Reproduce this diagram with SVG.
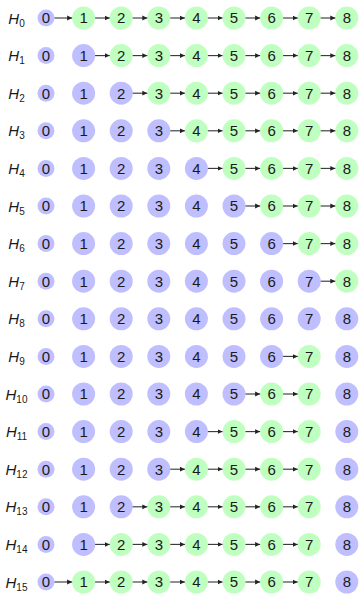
<svg xmlns="http://www.w3.org/2000/svg" width="360" height="594" viewBox="0 0 360 594">
<style>
.p{fill:#bfbfff}
.g{fill:#bfffbf}
.n text{font-family:"Liberation Sans",Arial,sans-serif;font-size:15px;fill:#1a1a1a;text-anchor:middle}
.lab{font-family:"Liberation Sans",Arial,sans-serif;font-size:15px;font-style:italic;fill:#1a1a1a;text-anchor:middle}
.lab tspan{font-size:10px;font-style:normal}
#edges line{stroke:#333;stroke-width:1.1;marker-end:url(#ah)}
</style>
<defs>
<marker id="ah" markerWidth="6" markerHeight="6" refX="5" refY="3" orient="auto" markerUnits="userSpaceOnUse"><path d="M0,0.6 L5,3 L0,5.4 z" fill="#222"/></marker>
</defs>
<g id="labels">
<text class="lab" x="16.5" y="23.5">H<tspan dy="3">0</tspan></text>
<text class="lab" x="16.5" y="61.1">H<tspan dy="3">1</tspan></text>
<text class="lab" x="16.5" y="98.7">H<tspan dy="3">2</tspan></text>
<text class="lab" x="16.5" y="136.3">H<tspan dy="3">3</tspan></text>
<text class="lab" x="16.5" y="173.9">H<tspan dy="3">4</tspan></text>
<text class="lab" x="16.5" y="211.5">H<tspan dy="3">5</tspan></text>
<text class="lab" x="16.5" y="249.1">H<tspan dy="3">6</tspan></text>
<text class="lab" x="16.5" y="286.7">H<tspan dy="3">7</tspan></text>
<text class="lab" x="16.5" y="324.3">H<tspan dy="3">8</tspan></text>
<text class="lab" x="16.5" y="361.9">H<tspan dy="3">9</tspan></text>
<text class="lab" x="16.5" y="399.5">H<tspan dy="3">10</tspan></text>
<text class="lab" x="16.5" y="437.1">H<tspan dy="3">11</tspan></text>
<text class="lab" x="16.5" y="474.7">H<tspan dy="3">12</tspan></text>
<text class="lab" x="16.5" y="512.3">H<tspan dy="3">13</tspan></text>
<text class="lab" x="16.5" y="549.9">H<tspan dy="3">14</tspan></text>
<text class="lab" x="16.5" y="587.5">H<tspan dy="3">15</tspan></text>
</g>

<g id="row0" class="n" transform="translate(0,18)">
<g id="r0n0" transform="translate(46,0)"><circle class="p" r="8.5"/><text y="5.3">0</text></g>
<g id="r0n1" transform="translate(83.6,0)"><circle class="g" r="11.5"/><text y="5.3">1</text></g>
<g id="r0n2" transform="translate(121.2,0)"><circle class="g" r="11.5"/><text y="5.3">2</text></g>
<g id="r0n3" transform="translate(158.8,0)"><circle class="g" r="11.5"/><text y="5.3">3</text></g>
<g id="r0n4" transform="translate(196.4,0)"><circle class="g" r="11.5"/><text y="5.3">4</text></g>
<g id="r0n5" transform="translate(234,0)"><circle class="g" r="11.5"/><text y="5.3">5</text></g>
<g id="r0n6" transform="translate(271.6,0)"><circle class="g" r="11.5"/><text y="5.3">6</text></g>
<g id="r0n7" transform="translate(309.2,0)"><circle class="g" r="11.5"/><text y="5.3">7</text></g>
<g id="r0n8" transform="translate(346.8,0)"><circle class="g" r="11.5"/><text y="5.3">8</text></g>
</g>
<g id="row1" class="n" transform="translate(0,55.6)">
<g id="r1n0" transform="translate(46,0)"><circle class="p" r="8.5"/><text y="5.3">0</text></g>
<g id="r1n1" transform="translate(83.6,0)"><circle class="p" r="11.5"/><text y="5.3">1</text></g>
<g id="r1n2" transform="translate(121.2,0)"><circle class="g" r="11.5"/><text y="5.3">2</text></g>
<g id="r1n3" transform="translate(158.8,0)"><circle class="g" r="11.5"/><text y="5.3">3</text></g>
<g id="r1n4" transform="translate(196.4,0)"><circle class="g" r="11.5"/><text y="5.3">4</text></g>
<g id="r1n5" transform="translate(234,0)"><circle class="g" r="11.5"/><text y="5.3">5</text></g>
<g id="r1n6" transform="translate(271.6,0)"><circle class="g" r="11.5"/><text y="5.3">6</text></g>
<g id="r1n7" transform="translate(309.2,0)"><circle class="g" r="11.5"/><text y="5.3">7</text></g>
<g id="r1n8" transform="translate(346.8,0)"><circle class="g" r="11.5"/><text y="5.3">8</text></g>
</g>
<g id="row2" class="n" transform="translate(0,93.2)">
<g id="r2n0" transform="translate(46,0)"><circle class="p" r="8.5"/><text y="5.3">0</text></g>
<g id="r2n1" transform="translate(83.6,0)"><circle class="p" r="11.5"/><text y="5.3">1</text></g>
<g id="r2n2" transform="translate(121.2,0)"><circle class="p" r="11.5"/><text y="5.3">2</text></g>
<g id="r2n3" transform="translate(158.8,0)"><circle class="g" r="11.5"/><text y="5.3">3</text></g>
<g id="r2n4" transform="translate(196.4,0)"><circle class="g" r="11.5"/><text y="5.3">4</text></g>
<g id="r2n5" transform="translate(234,0)"><circle class="g" r="11.5"/><text y="5.3">5</text></g>
<g id="r2n6" transform="translate(271.6,0)"><circle class="g" r="11.5"/><text y="5.3">6</text></g>
<g id="r2n7" transform="translate(309.2,0)"><circle class="g" r="11.5"/><text y="5.3">7</text></g>
<g id="r2n8" transform="translate(346.8,0)"><circle class="g" r="11.5"/><text y="5.3">8</text></g>
</g>
<g id="row3" class="n" transform="translate(0,130.8)">
<g id="r3n0" transform="translate(46,0)"><circle class="p" r="8.5"/><text y="5.3">0</text></g>
<g id="r3n1" transform="translate(83.6,0)"><circle class="p" r="11.5"/><text y="5.3">1</text></g>
<g id="r3n2" transform="translate(121.2,0)"><circle class="p" r="11.5"/><text y="5.3">2</text></g>
<g id="r3n3" transform="translate(158.8,0)"><circle class="p" r="11.5"/><text y="5.3">3</text></g>
<g id="r3n4" transform="translate(196.4,0)"><circle class="g" r="11.5"/><text y="5.3">4</text></g>
<g id="r3n5" transform="translate(234,0)"><circle class="g" r="11.5"/><text y="5.3">5</text></g>
<g id="r3n6" transform="translate(271.6,0)"><circle class="g" r="11.5"/><text y="5.3">6</text></g>
<g id="r3n7" transform="translate(309.2,0)"><circle class="g" r="11.5"/><text y="5.3">7</text></g>
<g id="r3n8" transform="translate(346.8,0)"><circle class="g" r="11.5"/><text y="5.3">8</text></g>
</g>
<g id="row4" class="n" transform="translate(0,168.4)">
<g id="r4n0" transform="translate(46,0)"><circle class="p" r="8.5"/><text y="5.3">0</text></g>
<g id="r4n1" transform="translate(83.6,0)"><circle class="p" r="11.5"/><text y="5.3">1</text></g>
<g id="r4n2" transform="translate(121.2,0)"><circle class="p" r="11.5"/><text y="5.3">2</text></g>
<g id="r4n3" transform="translate(158.8,0)"><circle class="p" r="11.5"/><text y="5.3">3</text></g>
<g id="r4n4" transform="translate(196.4,0)"><circle class="p" r="11.5"/><text y="5.3">4</text></g>
<g id="r4n5" transform="translate(234,0)"><circle class="g" r="11.5"/><text y="5.3">5</text></g>
<g id="r4n6" transform="translate(271.6,0)"><circle class="g" r="11.5"/><text y="5.3">6</text></g>
<g id="r4n7" transform="translate(309.2,0)"><circle class="g" r="11.5"/><text y="5.3">7</text></g>
<g id="r4n8" transform="translate(346.8,0)"><circle class="g" r="11.5"/><text y="5.3">8</text></g>
</g>
<g id="row5" class="n" transform="translate(0,206)">
<g id="r5n0" transform="translate(46,0)"><circle class="p" r="8.5"/><text y="5.3">0</text></g>
<g id="r5n1" transform="translate(83.6,0)"><circle class="p" r="11.5"/><text y="5.3">1</text></g>
<g id="r5n2" transform="translate(121.2,0)"><circle class="p" r="11.5"/><text y="5.3">2</text></g>
<g id="r5n3" transform="translate(158.8,0)"><circle class="p" r="11.5"/><text y="5.3">3</text></g>
<g id="r5n4" transform="translate(196.4,0)"><circle class="p" r="11.5"/><text y="5.3">4</text></g>
<g id="r5n5" transform="translate(234,0)"><circle class="p" r="11.5"/><text y="5.3">5</text></g>
<g id="r5n6" transform="translate(271.6,0)"><circle class="g" r="11.5"/><text y="5.3">6</text></g>
<g id="r5n7" transform="translate(309.2,0)"><circle class="g" r="11.5"/><text y="5.3">7</text></g>
<g id="r5n8" transform="translate(346.8,0)"><circle class="g" r="11.5"/><text y="5.3">8</text></g>
</g>
<g id="row6" class="n" transform="translate(0,243.6)">
<g id="r6n0" transform="translate(46,0)"><circle class="p" r="8.5"/><text y="5.3">0</text></g>
<g id="r6n1" transform="translate(83.6,0)"><circle class="p" r="11.5"/><text y="5.3">1</text></g>
<g id="r6n2" transform="translate(121.2,0)"><circle class="p" r="11.5"/><text y="5.3">2</text></g>
<g id="r6n3" transform="translate(158.8,0)"><circle class="p" r="11.5"/><text y="5.3">3</text></g>
<g id="r6n4" transform="translate(196.4,0)"><circle class="p" r="11.5"/><text y="5.3">4</text></g>
<g id="r6n5" transform="translate(234,0)"><circle class="p" r="11.5"/><text y="5.3">5</text></g>
<g id="r6n6" transform="translate(271.6,0)"><circle class="p" r="11.5"/><text y="5.3">6</text></g>
<g id="r6n7" transform="translate(309.2,0)"><circle class="g" r="11.5"/><text y="5.3">7</text></g>
<g id="r6n8" transform="translate(346.8,0)"><circle class="g" r="11.5"/><text y="5.3">8</text></g>
</g>
<g id="row7" class="n" transform="translate(0,281.2)">
<g id="r7n0" transform="translate(46,0)"><circle class="p" r="8.5"/><text y="5.3">0</text></g>
<g id="r7n1" transform="translate(83.6,0)"><circle class="p" r="11.5"/><text y="5.3">1</text></g>
<g id="r7n2" transform="translate(121.2,0)"><circle class="p" r="11.5"/><text y="5.3">2</text></g>
<g id="r7n3" transform="translate(158.8,0)"><circle class="p" r="11.5"/><text y="5.3">3</text></g>
<g id="r7n4" transform="translate(196.4,0)"><circle class="p" r="11.5"/><text y="5.3">4</text></g>
<g id="r7n5" transform="translate(234,0)"><circle class="p" r="11.5"/><text y="5.3">5</text></g>
<g id="r7n6" transform="translate(271.6,0)"><circle class="p" r="11.5"/><text y="5.3">6</text></g>
<g id="r7n7" transform="translate(309.2,0)"><circle class="p" r="11.5"/><text y="5.3">7</text></g>
<g id="r7n8" transform="translate(346.8,0)"><circle class="g" r="11.5"/><text y="5.3">8</text></g>
</g>
<g id="row8" class="n" transform="translate(0,318.8)">
<g id="r8n0" transform="translate(46,0)"><circle class="p" r="8.5"/><text y="5.3">0</text></g>
<g id="r8n1" transform="translate(83.6,0)"><circle class="p" r="11.5"/><text y="5.3">1</text></g>
<g id="r8n2" transform="translate(121.2,0)"><circle class="p" r="11.5"/><text y="5.3">2</text></g>
<g id="r8n3" transform="translate(158.8,0)"><circle class="p" r="11.5"/><text y="5.3">3</text></g>
<g id="r8n4" transform="translate(196.4,0)"><circle class="p" r="11.5"/><text y="5.3">4</text></g>
<g id="r8n5" transform="translate(234,0)"><circle class="p" r="11.5"/><text y="5.3">5</text></g>
<g id="r8n6" transform="translate(271.6,0)"><circle class="p" r="11.5"/><text y="5.3">6</text></g>
<g id="r8n7" transform="translate(309.2,0)"><circle class="p" r="11.5"/><text y="5.3">7</text></g>
<g id="r8n8" transform="translate(346.8,0)"><circle class="p" r="11.5"/><text y="5.3">8</text></g>
</g>
<g id="row9" class="n" transform="translate(0,356.4)">
<g id="r9n0" transform="translate(46,0)"><circle class="p" r="8.5"/><text y="5.3">0</text></g>
<g id="r9n1" transform="translate(83.6,0)"><circle class="p" r="11.5"/><text y="5.3">1</text></g>
<g id="r9n2" transform="translate(121.2,0)"><circle class="p" r="11.5"/><text y="5.3">2</text></g>
<g id="r9n3" transform="translate(158.8,0)"><circle class="p" r="11.5"/><text y="5.3">3</text></g>
<g id="r9n4" transform="translate(196.4,0)"><circle class="p" r="11.5"/><text y="5.3">4</text></g>
<g id="r9n5" transform="translate(234,0)"><circle class="p" r="11.5"/><text y="5.3">5</text></g>
<g id="r9n6" transform="translate(271.6,0)"><circle class="p" r="11.5"/><text y="5.3">6</text></g>
<g id="r9n7" transform="translate(309.2,0)"><circle class="g" r="11.5"/><text y="5.3">7</text></g>
<g id="r9n8" transform="translate(346.8,0)"><circle class="p" r="11.5"/><text y="5.3">8</text></g>
</g>
<g id="row10" class="n" transform="translate(0,394)">
<g id="r10n0" transform="translate(46,0)"><circle class="p" r="8.5"/><text y="5.3">0</text></g>
<g id="r10n1" transform="translate(83.6,0)"><circle class="p" r="11.5"/><text y="5.3">1</text></g>
<g id="r10n2" transform="translate(121.2,0)"><circle class="p" r="11.5"/><text y="5.3">2</text></g>
<g id="r10n3" transform="translate(158.8,0)"><circle class="p" r="11.5"/><text y="5.3">3</text></g>
<g id="r10n4" transform="translate(196.4,0)"><circle class="p" r="11.5"/><text y="5.3">4</text></g>
<g id="r10n5" transform="translate(234,0)"><circle class="p" r="11.5"/><text y="5.3">5</text></g>
<g id="r10n6" transform="translate(271.6,0)"><circle class="g" r="11.5"/><text y="5.3">6</text></g>
<g id="r10n7" transform="translate(309.2,0)"><circle class="g" r="11.5"/><text y="5.3">7</text></g>
<g id="r10n8" transform="translate(346.8,0)"><circle class="p" r="11.5"/><text y="5.3">8</text></g>
</g>
<g id="row11" class="n" transform="translate(0,431.6)">
<g id="r11n0" transform="translate(46,0)"><circle class="p" r="8.5"/><text y="5.3">0</text></g>
<g id="r11n1" transform="translate(83.6,0)"><circle class="p" r="11.5"/><text y="5.3">1</text></g>
<g id="r11n2" transform="translate(121.2,0)"><circle class="p" r="11.5"/><text y="5.3">2</text></g>
<g id="r11n3" transform="translate(158.8,0)"><circle class="p" r="11.5"/><text y="5.3">3</text></g>
<g id="r11n4" transform="translate(196.4,0)"><circle class="p" r="11.5"/><text y="5.3">4</text></g>
<g id="r11n5" transform="translate(234,0)"><circle class="g" r="11.5"/><text y="5.3">5</text></g>
<g id="r11n6" transform="translate(271.6,0)"><circle class="g" r="11.5"/><text y="5.3">6</text></g>
<g id="r11n7" transform="translate(309.2,0)"><circle class="g" r="11.5"/><text y="5.3">7</text></g>
<g id="r11n8" transform="translate(346.8,0)"><circle class="p" r="11.5"/><text y="5.3">8</text></g>
</g>
<g id="row12" class="n" transform="translate(0,469.2)">
<g id="r12n0" transform="translate(46,0)"><circle class="p" r="8.5"/><text y="5.3">0</text></g>
<g id="r12n1" transform="translate(83.6,0)"><circle class="p" r="11.5"/><text y="5.3">1</text></g>
<g id="r12n2" transform="translate(121.2,0)"><circle class="p" r="11.5"/><text y="5.3">2</text></g>
<g id="r12n3" transform="translate(158.8,0)"><circle class="p" r="11.5"/><text y="5.3">3</text></g>
<g id="r12n4" transform="translate(196.4,0)"><circle class="g" r="11.5"/><text y="5.3">4</text></g>
<g id="r12n5" transform="translate(234,0)"><circle class="g" r="11.5"/><text y="5.3">5</text></g>
<g id="r12n6" transform="translate(271.6,0)"><circle class="g" r="11.5"/><text y="5.3">6</text></g>
<g id="r12n7" transform="translate(309.2,0)"><circle class="g" r="11.5"/><text y="5.3">7</text></g>
<g id="r12n8" transform="translate(346.8,0)"><circle class="p" r="11.5"/><text y="5.3">8</text></g>
</g>
<g id="row13" class="n" transform="translate(0,506.8)">
<g id="r13n0" transform="translate(46,0)"><circle class="p" r="8.5"/><text y="5.3">0</text></g>
<g id="r13n1" transform="translate(83.6,0)"><circle class="p" r="11.5"/><text y="5.3">1</text></g>
<g id="r13n2" transform="translate(121.2,0)"><circle class="p" r="11.5"/><text y="5.3">2</text></g>
<g id="r13n3" transform="translate(158.8,0)"><circle class="g" r="11.5"/><text y="5.3">3</text></g>
<g id="r13n4" transform="translate(196.4,0)"><circle class="g" r="11.5"/><text y="5.3">4</text></g>
<g id="r13n5" transform="translate(234,0)"><circle class="g" r="11.5"/><text y="5.3">5</text></g>
<g id="r13n6" transform="translate(271.6,0)"><circle class="g" r="11.5"/><text y="5.3">6</text></g>
<g id="r13n7" transform="translate(309.2,0)"><circle class="g" r="11.5"/><text y="5.3">7</text></g>
<g id="r13n8" transform="translate(346.8,0)"><circle class="p" r="11.5"/><text y="5.3">8</text></g>
</g>
<g id="row14" class="n" transform="translate(0,544.4)">
<g id="r14n0" transform="translate(46,0)"><circle class="p" r="8.5"/><text y="5.3">0</text></g>
<g id="r14n1" transform="translate(83.6,0)"><circle class="p" r="11.5"/><text y="5.3">1</text></g>
<g id="r14n2" transform="translate(121.2,0)"><circle class="g" r="11.5"/><text y="5.3">2</text></g>
<g id="r14n3" transform="translate(158.8,0)"><circle class="g" r="11.5"/><text y="5.3">3</text></g>
<g id="r14n4" transform="translate(196.4,0)"><circle class="g" r="11.5"/><text y="5.3">4</text></g>
<g id="r14n5" transform="translate(234,0)"><circle class="g" r="11.5"/><text y="5.3">5</text></g>
<g id="r14n6" transform="translate(271.6,0)"><circle class="g" r="11.5"/><text y="5.3">6</text></g>
<g id="r14n7" transform="translate(309.2,0)"><circle class="g" r="11.5"/><text y="5.3">7</text></g>
<g id="r14n8" transform="translate(346.8,0)"><circle class="p" r="11.5"/><text y="5.3">8</text></g>
</g>
<g id="row15" class="n" transform="translate(0,582)">
<g id="r15n0" transform="translate(46,0)"><circle class="p" r="8.5"/><text y="5.3">0</text></g>
<g id="r15n1" transform="translate(83.6,0)"><circle class="g" r="11.5"/><text y="5.3">1</text></g>
<g id="r15n2" transform="translate(121.2,0)"><circle class="g" r="11.5"/><text y="5.3">2</text></g>
<g id="r15n3" transform="translate(158.8,0)"><circle class="g" r="11.5"/><text y="5.3">3</text></g>
<g id="r15n4" transform="translate(196.4,0)"><circle class="g" r="11.5"/><text y="5.3">4</text></g>
<g id="r15n5" transform="translate(234,0)"><circle class="g" r="11.5"/><text y="5.3">5</text></g>
<g id="r15n6" transform="translate(271.6,0)"><circle class="g" r="11.5"/><text y="5.3">6</text></g>
<g id="r15n7" transform="translate(309.2,0)"><circle class="g" r="11.5"/><text y="5.3">7</text></g>
<g id="r15n8" transform="translate(346.8,0)"><circle class="p" r="11.5"/><text y="5.3">8</text></g>
</g>

<g id="edges">
<line x1="54.5" y1="18" x2="72.1" y2="18"/>
<line x1="95.1" y1="18" x2="109.7" y2="18"/>
<line x1="132.7" y1="18" x2="147.3" y2="18"/>
<line x1="170.3" y1="18" x2="184.9" y2="18"/>
<line x1="207.9" y1="18" x2="222.5" y2="18"/>
<line x1="245.5" y1="18" x2="260.1" y2="18"/>
<line x1="283.1" y1="18" x2="297.7" y2="18"/>
<line x1="320.7" y1="18" x2="335.3" y2="18"/>

<line x1="95.1" y1="55.6" x2="109.7" y2="55.6"/>
<line x1="132.7" y1="55.6" x2="147.3" y2="55.6"/>
<line x1="170.3" y1="55.6" x2="184.9" y2="55.6"/>
<line x1="207.9" y1="55.6" x2="222.5" y2="55.6"/>
<line x1="245.5" y1="55.6" x2="260.1" y2="55.6"/>
<line x1="283.1" y1="55.6" x2="297.7" y2="55.6"/>
<line x1="320.7" y1="55.6" x2="335.3" y2="55.6"/>

<line x1="132.7" y1="93.2" x2="147.3" y2="93.2"/>
<line x1="170.3" y1="93.2" x2="184.9" y2="93.2"/>
<line x1="207.9" y1="93.2" x2="222.5" y2="93.2"/>
<line x1="245.5" y1="93.2" x2="260.1" y2="93.2"/>
<line x1="283.1" y1="93.2" x2="297.7" y2="93.2"/>
<line x1="320.7" y1="93.2" x2="335.3" y2="93.2"/>

<line x1="170.3" y1="130.8" x2="184.9" y2="130.8"/>
<line x1="207.9" y1="130.8" x2="222.5" y2="130.8"/>
<line x1="245.5" y1="130.8" x2="260.1" y2="130.8"/>
<line x1="283.1" y1="130.8" x2="297.7" y2="130.8"/>
<line x1="320.7" y1="130.8" x2="335.3" y2="130.8"/>

<line x1="207.9" y1="168.4" x2="222.5" y2="168.4"/>
<line x1="245.5" y1="168.4" x2="260.1" y2="168.4"/>
<line x1="283.1" y1="168.4" x2="297.7" y2="168.4"/>
<line x1="320.7" y1="168.4" x2="335.3" y2="168.4"/>

<line x1="245.5" y1="206" x2="260.1" y2="206"/>
<line x1="283.1" y1="206" x2="297.7" y2="206"/>
<line x1="320.7" y1="206" x2="335.3" y2="206"/>

<line x1="283.1" y1="243.6" x2="297.7" y2="243.6"/>
<line x1="320.7" y1="243.6" x2="335.3" y2="243.6"/>

<line x1="320.7" y1="281.2" x2="335.3" y2="281.2"/>

<line x1="283.1" y1="356.4" x2="297.7" y2="356.4"/>

<line x1="245.5" y1="394" x2="260.1" y2="394"/>
<line x1="283.1" y1="394" x2="297.7" y2="394"/>

<line x1="207.9" y1="431.6" x2="222.5" y2="431.6"/>
<line x1="245.5" y1="431.6" x2="260.1" y2="431.6"/>
<line x1="283.1" y1="431.6" x2="297.7" y2="431.6"/>

<line x1="170.3" y1="469.2" x2="184.9" y2="469.2"/>
<line x1="207.9" y1="469.2" x2="222.5" y2="469.2"/>
<line x1="245.5" y1="469.2" x2="260.1" y2="469.2"/>
<line x1="283.1" y1="469.2" x2="297.7" y2="469.2"/>

<line x1="132.7" y1="506.8" x2="147.3" y2="506.8"/>
<line x1="170.3" y1="506.8" x2="184.9" y2="506.8"/>
<line x1="207.9" y1="506.8" x2="222.5" y2="506.8"/>
<line x1="245.5" y1="506.8" x2="260.1" y2="506.8"/>
<line x1="283.1" y1="506.8" x2="297.7" y2="506.8"/>

<line x1="95.1" y1="544.4" x2="109.7" y2="544.4"/>
<line x1="132.7" y1="544.4" x2="147.3" y2="544.4"/>
<line x1="170.3" y1="544.4" x2="184.9" y2="544.4"/>
<line x1="207.9" y1="544.4" x2="222.5" y2="544.4"/>
<line x1="245.5" y1="544.4" x2="260.1" y2="544.4"/>
<line x1="283.1" y1="544.4" x2="297.7" y2="544.4"/>

<line x1="54.5" y1="582" x2="72.1" y2="582"/>
<line x1="95.1" y1="582" x2="109.7" y2="582"/>
<line x1="132.7" y1="582" x2="147.3" y2="582"/>
<line x1="170.3" y1="582" x2="184.9" y2="582"/>
<line x1="207.9" y1="582" x2="222.5" y2="582"/>
<line x1="245.5" y1="582" x2="260.1" y2="582"/>
<line x1="283.1" y1="582" x2="297.7" y2="582"/>
</g>
</svg>
